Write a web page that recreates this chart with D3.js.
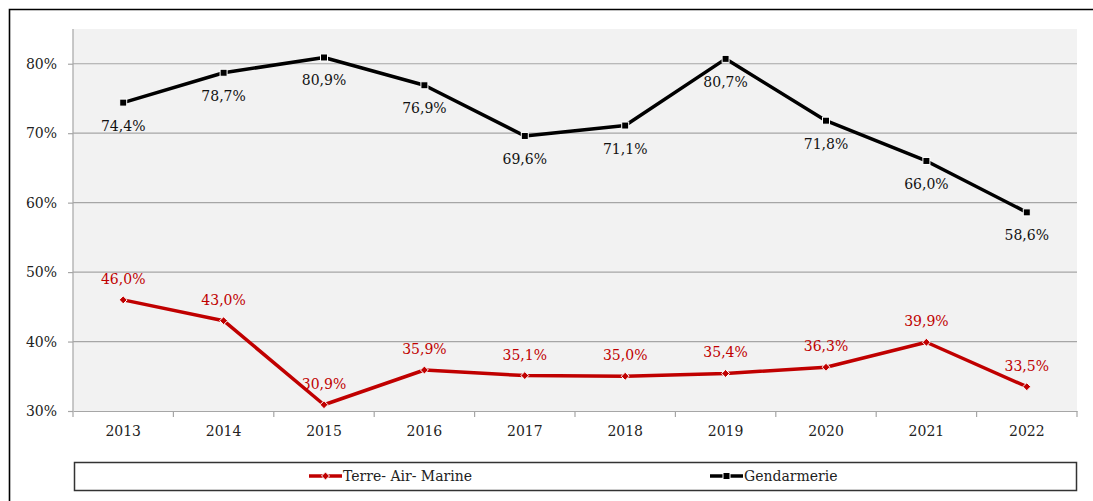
<!DOCTYPE html>
<html><head><meta charset="utf-8">
<script src="https://cdn.jsdelivr.net/npm/d3@7"></script>
<style>body{margin:0;background:#fff}svg{display:block}</style>
</head><body><svg id="c" width="1093" height="501"></svg>
<script>
const years = ["2013","2014","2015","2016","2017","2018","2019","2020","2021","2022"];
const gendarmerie = [74.4,78.7,80.9,76.9,69.6,71.1,80.7,71.8,66.0,58.6];
const terreAirMarine = [46.0,43.0,30.9,35.9,35.1,35.0,35.4,36.3,39.9,33.5];
const yTicks = [30,40,50,60,70,80];
const seriesNames = ["Terre- Air- Marine","Gendarmerie"];

const FONT = "DejaVu Serif";
const FS = 14;
const svg = d3.select("#c");
const L=73,R=1077,T=29,B=411;
const x = d3.scaleBand().domain(years).range([L,R]);
const y = d3.scaleLinear().domain([30,85]).range([B,T]);
const fmt = v => v.toFixed(1).replace(".",",")+"%";

svg.append("path").attr("d","M9.5,501 V9.5 H1093").attr("fill","none").attr("stroke","#000").attr("stroke-width",1.6);
svg.append("rect").attr("x",L).attr("y",T).attr("width",R-L).attr("height",B-T).attr("fill","#f2f2f2");

svg.append("g").selectAll("line").data(yTicks.filter(d=>d>30)).join("line")
  .attr("x1",L).attr("x2",R).attr("y1",d=>y(d)).attr("y2",d=>y(d)).attr("stroke","#a6a6a6").attr("stroke-width",1.2);

const ya = svg.append("g").attr("transform",`translate(${L},0)`)
  .call(d3.axisLeft(y).tickValues(yTicks).tickSize(5).tickPadding(11).tickFormat(d=>d+"%"));
ya.attr("font-family",FONT).attr("font-size",FS);
ya.selectAll("path,line").attr("stroke","#a6a6a6").attr("stroke-width",1.2);
ya.select(".domain").attr("d",`M0,${T}V${B}`);
ya.selectAll("text").attr("fill","#222");

const xa = svg.append("g").attr("transform",`translate(0,${B})`)
  .call(d3.axisBottom(x).tickSize(0).tickPadding(15));
xa.attr("font-family",FONT).attr("font-size",FS);
xa.select(".domain").attr("stroke","#a6a6a6").attr("stroke-width",1.2);
xa.selectAll("text").attr("fill","#222");
svg.append("g").selectAll("line").data(years.concat(["end"])).join("line")
  .attr("x1",(d,i)=>L+i*x.step()).attr("x2",(d,i)=>L+i*x.step())
  .attr("y1",B).attr("y2",B+6).attr("stroke","#a6a6a6").attr("stroke-width",1.2);

const cx = d=>x(d)+x.bandwidth()/2;
const line = d3.line().x((d,i)=>cx(years[i])).y(d=>y(d));

const red="#c00000";
svg.append("path").datum(terreAirMarine).attr("d",line).attr("fill","none").attr("stroke",red).attr("stroke-width",3.5).attr("stroke-linejoin","round");
svg.append("g").selectAll("path").data(terreAirMarine).join("path")
  .attr("d",d3.symbol(d3.symbolDiamond2,40)).attr("transform",(d,i)=>`translate(${cx(years[i])},${y(d)})`)
  .attr("fill",red).attr("stroke","#fff").attr("stroke-width",1);
svg.append("g").attr("font-family",FONT).attr("font-size",FS).selectAll("text").data(terreAirMarine).join("text")
  .attr("x",(d,i)=>cx(years[i])).attr("y",d=>y(d)-16).attr("text-anchor","middle")
  .attr("fill",red).text(fmt);

svg.append("path").datum(gendarmerie).attr("d",line).attr("fill","none").attr("stroke","#000").attr("stroke-width",3.5).attr("stroke-linejoin","round");
svg.append("g").selectAll("rect").data(gendarmerie).join("rect")
  .attr("x",(d,i)=>cx(years[i])-3.5).attr("y",d=>y(d)-3.5).attr("width",7).attr("height",7)
  .attr("fill","#000").attr("stroke","#fff").attr("stroke-width",1);
svg.append("g").attr("font-family",FONT).attr("font-size",FS).selectAll("text").data(gendarmerie).join("text")
  .attr("x",(d,i)=>cx(years[i])).attr("y",d=>y(d)+28).attr("text-anchor","middle")
  .attr("fill","#111").text(fmt);

svg.append("rect").attr("x",74.5).attr("y",462.5).attr("width",1002).attr("height",28).attr("fill","#fff").attr("stroke","#333").attr("stroke-width",1.5);
const lg = [{x:309,c:red,n:seriesNames[0],m:"d"},{x:710,c:"#000",n:seriesNames[1],m:"s"}];
lg.forEach(o=>{
  svg.append("line").attr("x1",o.x).attr("x2",o.x+33).attr("y1",476).attr("y2",476).attr("stroke",o.c).attr("stroke-width",3.5);
  if(o.m==="d") svg.append("path").attr("d",d3.symbol(d3.symbolDiamond2,40)).attr("transform",`translate(${o.x+16.5},476)`).attr("fill",o.c).attr("stroke","#fff");
  else svg.append("rect").attr("x",o.x+13).attr("y",472.5).attr("width",7).attr("height",7).attr("fill",o.c).attr("stroke","#fff");
  svg.append("text").attr("x",o.x+34).attr("y",481).attr("font-family",FONT).attr("font-size",FS).attr("fill","#222").text(o.n);
});
</script></body></html>
